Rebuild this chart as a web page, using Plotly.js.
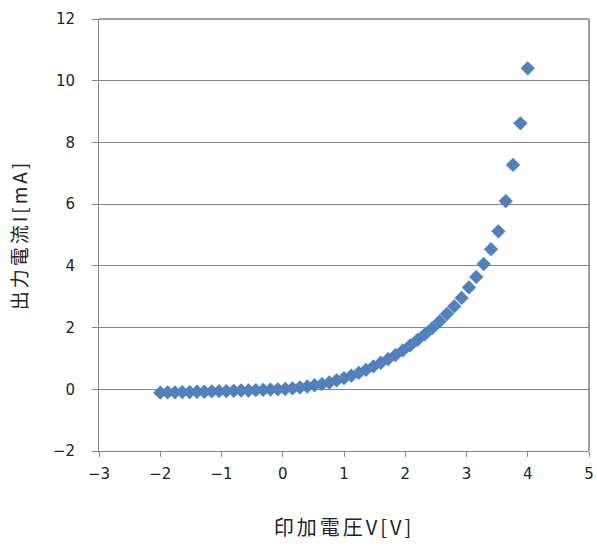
<!DOCTYPE html>
<html>
<head>
<meta charset="utf-8">
<script src="https://cdn.plot.ly/plotly-3.0.1.min.js"></script>
<style>
html,body{margin:0;padding:0;background:#fff;}
#chart{width:597px;height:546px;}
.xtitle,.ytitle{letter-spacing:3px;}
</style>
</head>
<body>
<div id="chart"></div>
<script>
// Applied voltage V [V]
var voltage = [-2.00,-1.88,-1.76,-1.64,-1.52,-1.40,-1.28,-1.16,-1.04,-0.92,
               -0.80,-0.68,-0.56,-0.44,-0.32,-0.20,-0.08,0.04,0.16,0.28,
               0.40,0.52,0.64,0.76,0.88,1.00,1.12,1.24,1.36,1.48,
               1.60,1.72,1.84,1.96,2.08,2.20,2.32,2.44,2.56,2.68,
               2.80,2.92,3.04,3.16,3.28,3.40,3.52,3.64,3.76,3.88,4.00];
// Output current I [mA]
var current = [-0.11,-0.10,-0.10,-0.09,-0.09,-0.08,-0.08,-0.07,-0.06,-0.06,
               -0.05,-0.04,-0.04,-0.03,-0.02,-0.01,0.00,0.01,0.03,0.06,
               0.09,0.13,0.17,0.22,0.29,0.36,0.44,0.53,0.63,0.74,
               0.86,0.98,1.11,1.26,1.42,1.60,1.78,1.98,2.20,2.44,
               2.69,2.96,3.30,3.64,4.06,4.54,5.12,6.10,7.27,8.62,10.40];

var xTickVals = [-3,-2,-1,0,1,2,3,4,5];
var xTickText = ['\u22123','\u22122','\u22121','0','1','2','3','4','5'];
var yTickVals = [-2,0,2,4,6,8,10,12];

var xTitle = '印加電圧V[V]';
var yTitle = '出力電流I[mA]';

var trace = {
  x: voltage,
  y: current,
  type: 'scatter',
  mode: 'markers',
  marker: {symbol: 'diamond', size: 11, color: '#4F81BD', line: {width: 0}},
  hoverinfo: 'x+y'
};

var layout = {
  width: 597,
  height: 546,
  margin: {l: 99, r: 8, t: 19, b: 95, pad: 0},
  paper_bgcolor: '#ffffff',
  plot_bgcolor: '#ffffff',
  showlegend: false,
  font: {family: '"Noto Sans CJK JP", "DejaVu Sans", sans-serif', color: '#222222'},
  xaxis: {
    range: [-3, 5],
    tickmode: 'array',
    tickvals: xTickVals,
    ticktext: xTickText,
    showgrid: false,
    zeroline: false,
    showline: true,
    linecolor: '#868686',
    linewidth: 1,
    ticks: 'outside',
    ticklen: 5,
    tickcolor: '#868686',
    tickfont: {family: '"DejaVu Sans", sans-serif', size: 15, color: '#222222'},
    ticklabelstandoff: 4,
    title: {text: xTitle, font: {family: '"Noto Sans CJK JP", sans-serif', size: 20, color: '#222222'}, standoff: 38}
  },
  yaxis: {
    range: [-2, 12],
    tickmode: 'array',
    tickvals: yTickVals,
    showgrid: true,
    gridcolor: '#868686',
    gridwidth: 1,
    zeroline: false,
    showline: true,
    linecolor: '#868686',
    linewidth: 1,
    ticks: 'outside',
    ticklen: 6,
    tickcolor: '#868686',
    tickfont: {family: '"DejaVu Sans", sans-serif', size: 15, color: '#222222'},
    ticklabelstandoff: 14,
    title: {text: yTitle, font: {family: '"Noto Sans CJK JP", sans-serif', size: 19, color: '#222222'}, standoff: 20}
  },
  shapes: [
    {type: 'line', xref: 'paper', yref: 'paper', x0: 0, x1: 1, y0: 1, y1: 1, line: {color: '#404040', width: 1}},
    {type: 'line', xref: 'paper', yref: 'paper', x0: 1, x1: 1, y0: 0, y1: 1, line: {color: '#404040', width: 1}}
  ]
};

Plotly.newPlot('chart', [trace], layout, {displayModeBar: false, staticPlot: true});
</script>
</body>
</html>
